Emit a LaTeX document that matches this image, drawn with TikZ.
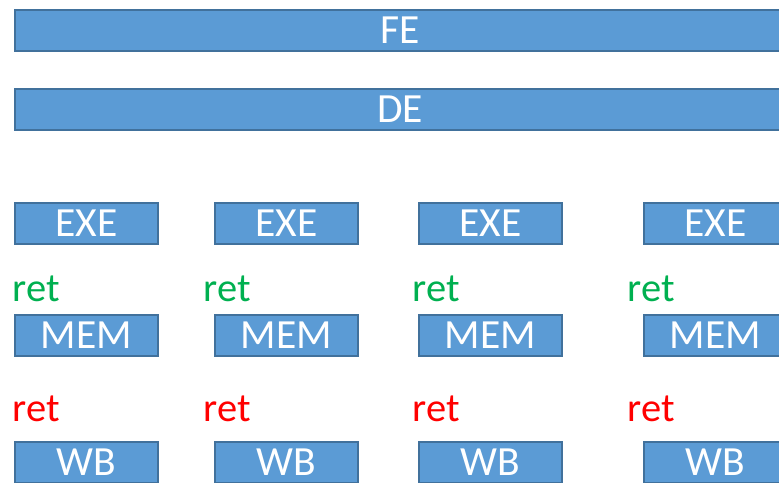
\documentclass[tikz,border=0pt]{standalone}
\usepackage{fontspec}
\setmainfont{Carlito}
\usepackage{xcolor}
\usetikzlibrary{positioning}

\definecolor{stageblue}{HTML}{5B9BD5}
\definecolor{stageedge}{HTML}{41719C}
\definecolor{retgreen}{HTML}{00B050}
\definecolor{retred}{HTML}{FF0000}

\begin{document}
\begin{tikzpicture}[x=1pt, y=-1pt, on grid,
    stage/.style={draw=stageedge, fill=stageblue, line width=2pt, text=white,
        minimum width=143pt, minimum height=41pt, inner sep=0pt,
        font=\fontsize{41.5}{44}\selectfont},
    bar/.style={stage, minimum width=770pt},
    retlbl/.style={anchor=base west, inner sep=0pt,
        font=\fontsize{40.5}{44}\selectfont}]
        \useasboundingbox (0,0) rectangle (779,482);
        \clip (0,0) rectangle (779,482);

        % front end
        \node[bar] (fe) at (400,30.5) {FE};
        \node[bar] (de) at (400,109) {DE};

        % four pipes
        \node[stage] (exe1) at (86.5,223.5) {EXE};
        \node[stage, right=200pt of exe1] (exe2) {EXE};
        \node[stage, right=204pt of exe2] (exe3) {EXE};
        \node[stage, right=225pt of exe3] (exe4) {EXE};

        \node[stage, below=112pt of exe1] (mem1) {MEM};
        \node[stage, below=112pt of exe2] (mem2) {MEM};
        \node[stage, below=112pt of exe3] (mem3) {MEM};
        \node[stage, below=112pt of exe4] (mem4) {MEM};

        \node[stage, below=127pt of mem1] (wb1) {WB};
        \node[stage, below=127pt of mem2] (wb2) {WB};
        \node[stage, below=127pt of mem3] (wb3) {WB};
        \node[stage, below=127pt of mem4] (wb4) {WB};

        % ret markers
        \node[retlbl, text=retgreen] (g1) at (12.5,301) {ret};
        \node[retlbl, text=retgreen] (g2) at (203.5,301) {ret};
        \node[retlbl, text=retgreen] (g3) at (412.5,301) {ret};
        \node[retlbl, text=retgreen] (g4) at (627.5,301) {ret};

        \node[retlbl, text=retred] (r1) at (12.5,421) {ret};
        \node[retlbl, text=retred] (r2) at (203.5,421) {ret};
        \node[retlbl, text=retred] (r3) at (412.5,421) {ret};
        \node[retlbl, text=retred] (r4) at (627.5,421) {ret};
    \end{tikzpicture}
\end{document}
